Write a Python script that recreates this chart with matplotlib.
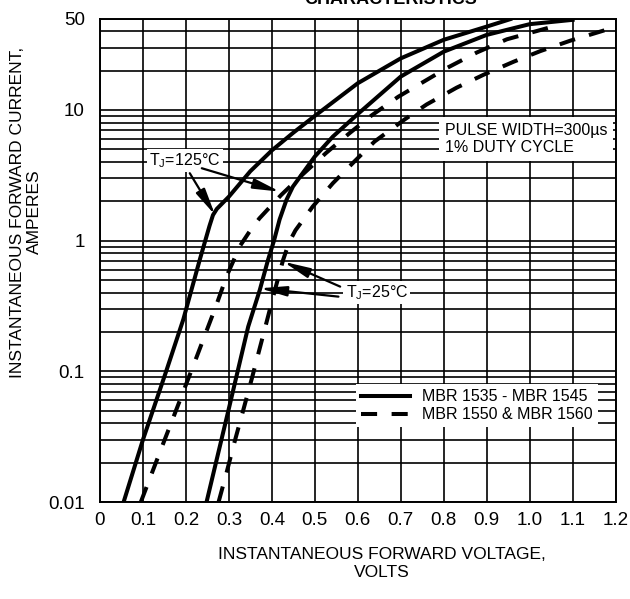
import matplotlib
matplotlib.use('Agg')
import matplotlib.pyplot as plt
import matplotlib.ticker as ticker
import numpy as np

plt.rcParams['font.family'] = ['Liberation Sans', 'DejaVu Sans']
plt.rcParams['mathtext.fontset'] = 'custom'
plt.rcParams['mathtext.rm'] = 'Liberation Sans'

# MBR 1535 - MBR 1545, TJ = 125 C (solid, left)
v_s125 = [0.055, 0.10, 0.154, 0.194, 0.232, 0.255, 0.263, 0.272, 0.30, 0.35, 0.40, 0.45, 0.50,
          0.60, 0.70, 0.80, 0.90, 0.955]
i_s125 = [0.01, 0.03, 0.10, 0.25, 0.71, 1.3, 1.57, 1.75, 2.17, 3.4, 4.9, 6.7, 9.0,
          16, 24.8, 34.4, 43.4, 49.5]

# MBR 1535 - MBR 1545, TJ = 25 C (solid, right)
v_s25 = [0.248, 0.30, 0.345, 0.372, 0.391, 0.405, 0.418, 0.434, 0.449, 0.50, 0.542, 0.60,
         0.70, 0.80, 0.90, 1.00, 1.10]
i_s25 = [0.01, 0.052, 0.22, 0.42, 0.71, 1.0, 1.45, 2.05, 2.59, 4.4, 6.25, 9.3,
         18, 27.9, 37.5, 45.3, 48.9]

# MBR 1550 & MBR 1560, TJ = 125 C (dashed, left)
v_d125 = [0.095, 0.12, 0.145, 0.171, 0.198, 0.225, 0.248, 0.27, 0.295, 0.326, 0.35, 0.371,
          0.422, 0.473, 0.526, 0.58, 0.633, 0.694, 0.807, 0.877, 0.947, 1.056]
i_d125 = [0.01, 0.0164, 0.0269, 0.0447, 0.0759, 0.129, 0.204, 0.316, 0.537, 0.912, 1.20, 1.48,
          2.24, 3.24, 4.68, 6.61, 9.12, 12.6, 20.9, 27.5, 34.7, 43.6]

# MBR 1550 & MBR 1560, TJ = 25 C (dashed, right)
v_d25 = [0.276, 0.295, 0.314, 0.334, 0.353, 0.372, 0.388, 0.407, 0.426, 0.44, 0.455, 0.495,
         0.542, 0.588, 0.639, 0.706, 0.76, 0.83, 0.893, 0.963, 1.025, 1.095, 1.165, 1.195]
i_d25 = [0.01, 0.017, 0.0295, 0.0513, 0.0871, 0.151, 0.240, 0.417, 0.708, 0.97, 1.20, 1.82,
         2.75, 3.91, 5.73, 8.32, 11.0, 14.8, 18.6, 23.4, 28.2, 33.9, 39.8, 42.7]

x_ticks = [0, 0.1, 0.2, 0.3, 0.4, 0.5, 0.6, 0.7, 0.8, 0.9, 1.0, 1.1, 1.2]
x_ticklabels = ['0', '0.1', '0.2', '0.3', '0.4', '0.5', '0.6', '0.7', '0.8', '0.9', '1.0', '1.1', '1.2']
y_ticks = [0.01, 0.1, 1, 10, 50]
y_ticklabels = ['0.01', '0.1', '1', '10', '50']

fig = plt.figure(figsize=(6.3, 5.99), dpi=100)
ax = fig.add_axes([0.1587, 0.1618, 0.8184, 0.8072])

lw = 2.9
dash = (0, (4.0, 3.6))
ax.plot(v_s125, i_s125, color='black', lw=lw, solid_joinstyle='round', zorder=3,
        label='MBR 1535 - MBR 1545')
ax.plot(v_s25, i_s25, color='black', lw=lw, solid_joinstyle='round', zorder=3)
ax.plot(v_d125, i_d125, color='black', lw=lw, linestyle=dash, zorder=3,
        label='MBR 1550 & MBR 1560')
ax.plot(v_d25, i_d25, color='black', lw=lw, linestyle=dash, zorder=3)

ax.set_yscale('log')
ax.set_xlim(0, 1.2)
ax.set_ylim(0.01, 50)
ax.set_xticks(x_ticks)
ax.set_xticklabels(x_ticklabels)
ax.set_yticks(y_ticks)
ax.set_yticklabels(y_ticklabels)
ax.yaxis.set_minor_locator(ticker.LogLocator(base=10, subs=np.arange(2, 10)))
ax.yaxis.set_minor_formatter(ticker.NullFormatter())
ax.tick_params(which='both', length=0, labelsize=13.5)
ax.tick_params(axis='x', pad=7)
ax.tick_params(axis='y', pad=11)
ax.grid(which='both', color='black', lw=1.2, zorder=1)
ax.set_axisbelow(True)
for s in ax.spines.values():
    s.set_linewidth(1.4)

# text labels with arrows
bb = dict(facecolor='white', edgecolor='none', pad=1.5)
ax.text(0.198, 4.1, r'T$_{\rm J}$=125°C', fontsize=11.5, ha='center', va='center', bbox=bb, zorder=4)
ax.text(0.644, 0.40, r'T$_{\rm J}$=25°C', fontsize=11.5, ha='center', va='center', bbox=bb, zorder=4)
ap = dict(arrowstyle='-|>,head_length=1.6,head_width=0.3', mutation_scale=10,
          color='black', lw=1.6, shrinkA=0, shrinkB=0)
ax.annotate('', xy=(0.268, 1.57), xytext=(0.209, 3.28), arrowprops=ap, zorder=5)
ax.annotate('', xy=(0.419, 2.37), xytext=(0.237, 3.58), arrowprops=ap, zorder=5)
ax.annotate('', xy=(0.427, 0.69), xytext=(0.559, 0.445), arrowprops=ap, zorder=5)
ax.annotate('', xy=(0.372, 0.432), xytext=(0.555, 0.373), arrowprops=ap, zorder=5)

ax.text(0.803, 6.0, 'PULSE WIDTH=300µs\n1% DUTY CYCLE', fontsize=11.5, ha='left', va='center',
        linespacing=1.2, bbox=dict(facecolor='white', edgecolor='none', pad=4), zorder=4)

leg = ax.legend(loc='lower right', bbox_to_anchor=(0.965, 0.155), frameon=True, fancybox=False,
                edgecolor='none', facecolor='white', framealpha=1, handlelength=3.1,
                handletextpad=0.75, labelspacing=0.2, borderpad=0.3, borderaxespad=0,
                fontsize=11.5)

fig.text(0.62, 0.9925, 'CHARACTERISTICS', fontsize=13, fontweight='bold', ha='center', va='baseline')
fig.text(0.606, 0.059, 'INSTANTANEOUS FORWARD VOLTAGE,\nVOLTS', fontsize=12.5, ha='center',
         va='center', linespacing=1.2)
fig.text(0.041, 0.646, 'INSTANTANEOUS FORWARD CURRENT,\nAMPERES', fontsize=12.5, ha='center',
         va='center', rotation=90, linespacing=1.2)

fig.savefig('out.png', dpi=100)
